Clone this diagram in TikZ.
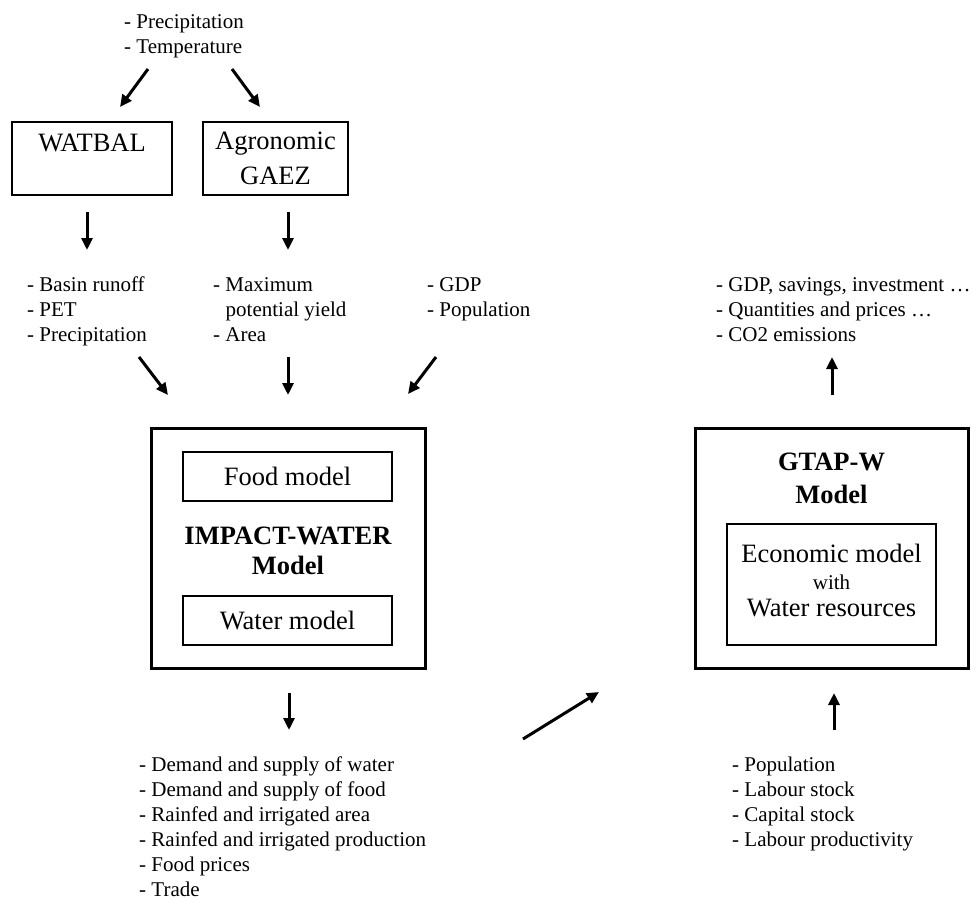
\documentclass[tikz,border=0pt]{standalone}
\usepackage{fontspec}
\setmainfont{Liberation Serif}
\usetikzlibrary{arrows.meta}
\tikzset{
    list/.style={anchor=north west, inner sep=0pt, align=left, font=\fontsize{21}{25}\selectfont},
    box/.style={draw, line width=1.5pt, align=center, inner sep=0pt, font=\fontsize{26.5}{35}\selectfont},
    bigbox/.style={draw, line width=3pt, inner sep=0pt},
    title/.style={anchor=north, inner sep=0pt, align=center},
    flow/.style={line width=3pt, -{Triangle[length=12pt,width=11pt]}}
}

\begin{document}
\begin{tikzpicture}[x=1pt, y=-1pt]
    \useasboundingbox (0,0) rectangle (979,900);
    \node [list] (climate) at (124, 14) {- Precipitation\\- Temperature};
    \node [box, minimum width=160pt, minimum height=73pt, text depth=31pt] (watbal) at (92, 158.5) {WATBAL};
    \node [box, minimum width=145pt, minimum height=73pt] (gaez) at (275.5, 158.5) {Agronomic\\GAEZ};
    \node [list] (runoff) at (27, 277) {- Basin runoff\\- PET\\- Precipitation};
    \node [list] (yield) at (213, 277) {- Maximum\\\hspace*{12.5pt}potential yield\\- Area};
    \node [list] (drivers) at (427, 277) {- GDP\\- Population};
    \node [list] (macro) at (716, 277) {- GDP, savings, investment …\\- Quantities and prices …\\- CO2 emissions};
    \node [bigbox, minimum width=274pt, minimum height=240pt] (impact) at (288, 548) {};
    \node [title, font=\fontsize{26.5}{30}\bfseries] (impacttitle) at (288, 527) {IMPACT-WATER\\Model};
    \node [box, minimum width=209pt, minimum height=49pt] (food) at (287.5, 476.5) {Food model};
    \node [box, minimum width=209pt, minimum height=49pt] (water) at (287.5, 620.5) {Water model};
    \node [bigbox, minimum width=273pt, minimum height=240pt] (gtap) at (831.5, 548) {};
    \node [title, font=\fontsize{26.5}{33}\bfseries] (gtaptitle) at (831.5, 453) {GTAP-W\\Model};
    \node [box, minimum width=209pt, minimum height=121pt, text depth=8pt, font=\fontsize{26.5}{27}\selectfont] (econ) at (831.5, 584.5) {Economic model\\{\fontsize{21}{25}\selectfont with}\\Water resources};
    \node [list] (results) at (139, 756) {- Demand and supply of water\\- Demand and supply of food\\- Rainfed and irrigated area\\- Rainfed and irrigated production\\- Food prices\\- Trade};
    \node [list] (endow) at (732, 757) {- Population\\- Labour stock\\- Capital stock\\- Labour productivity};
    % arrow ends
    \coordinate (0) at (148, 69);
    \coordinate (1) at (120, 107);
    \coordinate (2) at (232, 69);
    \coordinate (3) at (260, 107);
    \coordinate (4) at (87, 212);
    \coordinate (5) at (87, 250);
    \coordinate (6) at (288, 212);
    \coordinate (7) at (288, 250);
    \coordinate (8) at (139, 357);
    \coordinate (9) at (168, 395);
    \coordinate (10) at (288, 357);
    \coordinate (11) at (288, 395);
    \coordinate (12) at (436, 357);
    \coordinate (13) at (408, 394);
    \coordinate (14) at (289, 693);
    \coordinate (15) at (289, 730);
    \coordinate (16) at (523, 739);
    \coordinate (17) at (599, 692);
    \coordinate (18) at (832, 395);
    \coordinate (19) at (832, 357);
    \coordinate (20) at (834, 730);
    \coordinate (21) at (834, 693);
    % edges
    \draw [flow] (0) to (1);
    \draw [flow] (2) to (3);
    \draw [flow] (4) to (5);
    \draw [flow] (6) to (7);
    \draw [flow] (8) to (9);
    \draw [flow] (10) to (11);
    \draw [flow] (12) to (13);
    \draw [flow] (14) to (15);
    \draw [flow] (16) to (17);
    \draw [flow] (18) to (19);
    \draw [flow] (20) to (21);
\end{tikzpicture}
\end{document}
